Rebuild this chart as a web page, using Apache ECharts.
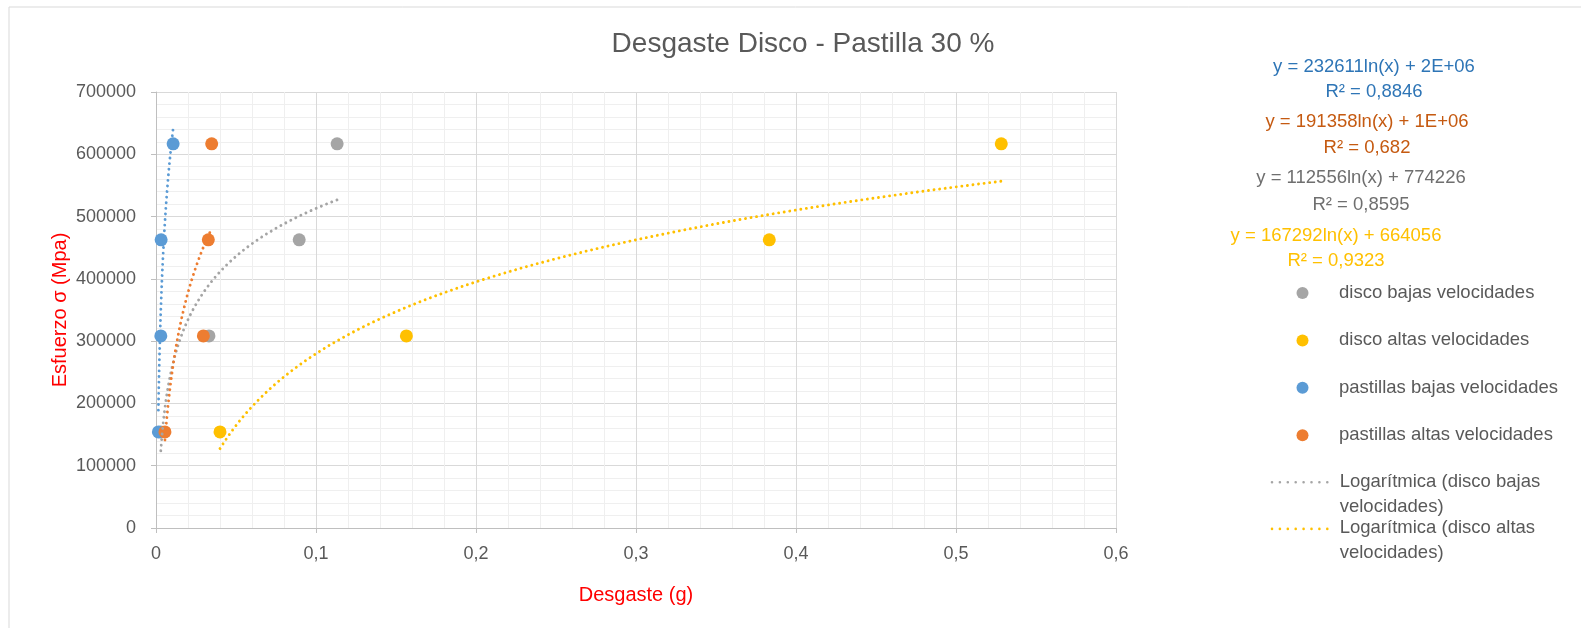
<!DOCTYPE html>
<html>
<head>
<meta charset="utf-8">
<script src="https://cdn.jsdelivr.net/npm/echarts@6/dist/echarts.min.js"></script>
<style>
html,body{margin:0;padding:0;background:#fff;}
#chart{width:1581px;height:628px;}
</style>
</head>
<body>
<div id="chart"></div>
<script>
// ---- data ----
const stressLevels = [154200, 308400, 462600, 616800];
const discoBajasX = [0.0030, 0.0331, 0.0895, 0.1132];
const discoAltasX = [0.0400, 0.1565, 0.3833, 0.5283];
const pastillasBajasX = [0.0015, 0.0030, 0.0032, 0.0107];
const pastillasAltasX = [0.0056, 0.0296, 0.0327, 0.0348];
const seriesNames = ['disco bajas velocidades', 'disco altas velocidades', 'pastillas bajas velocidades', 'pastillas altas velocidades'];
const seriesColors = ['#A5A5A5', '#FFC000', '#5B9BD5', '#ED7D31'];
const equationTexts = [
  ['y = 232611ln(x) + 2E+06', 'R² = 0,8846'],
  ['y = 191358ln(x) + 1E+06', 'R² = 0,682'],
  ['y = 112556ln(x) + 774226', 'R² = 0,8595'],
  ['y = 167292ln(x) + 664056', 'R² = 0,9323']
];
const equationColors = ['#2E75B6', '#C55A11', '#6F6F6F', '#FFC000'];
const xTicks = [0, 0.1, 0.2, 0.3, 0.4, 0.5, 0.6];
const yTicks = [0, 100000, 200000, 300000, 400000, 500000, 600000, 700000];

const FONT = '"Liberation Sans", Arial, sans-serif';
const xsAll = [discoBajasX, discoAltasX, pastillasBajasX, pastillasAltasX];

function pairs(xs) { return xs.map((x, i) => [x, stressLevels[i]]); }

// logarithmic least-squares trendline (Excel "Logarítmica") from the data
function logTrend(xs) {
  const ys = stressLevels;
  const n = xs.length;
  const lx = xs.map(Math.log);
  const mx = lx.reduce((a, b) => a + b, 0) / n;
  const my = ys.reduce((a, b) => a + b, 0) / n;
  let sxy = 0, sxx = 0;
  for (let i = 0; i < n; i++) { sxy += (lx[i] - mx) * (ys[i] - my); sxx += (lx[i] - mx) ** 2; }
  const a = sxy / sxx, b = my - a * mx;
  const lo = Math.min(...xs), hi = Math.max(...xs);
  const pts = [];
  const N = 200;
  for (let k = 0; k <= N; k++) {
    const x = lo + (hi - lo) * k / N;
    pts.push([x, a * Math.log(x) + b]);
  }
  return pts;
}

const trendNames = [
  'Logarítmica (disco bajas velocidades)',
  'Logarítmica (disco altas velocidades)',
  'Logarítmica (pastillas bajas velocidades)',
  'Logarítmica (pastillas altas velocidades)'
];

const series = [];
xsAll.forEach((xs, i) => {
  series.push({
    name: seriesNames[i], type: 'scatter', data: pairs(xs),
    symbol: 'circle', symbolSize: 13, itemStyle: { color: seriesColors[i], opacity: 1 },
    z: 2 + i
  });
});
xsAll.forEach((xs, i) => {
  series.push({
    name: trendNames[i], type: 'line', data: logTrend(xs), showSymbol: false, symbol: 'none',
    smooth: false, color: seriesColors[i],
    lineStyle: { color: seriesColors[i], width: 2.9, type: [0.01, 5.6], cap: 'round' },
    z: 10 + i, silent: true
  });
});

// dotted-line legend icon (dots occupy left 58px of a 64x26 box)
let dotPath = 'path://M64,26 ';
for (let k = 0; k < 8; k++) {
  const x = k * 7.9;
  dotPath += 'M' + x + ',1.3 a1.3,1.3 0 1,0 2.6,0 a1.3,1.3 0 1,0 -2.6,0 ';
}
// round marker legend icon centred in a 63x12 box
const dotMarkerPath = 'path://M0,0 M63,12 M25.5,6 a6,6 0 1,0 12,0 a6,6 0 1,0 -12,0 Z';

const graphics = [
  { type: 'rect', shape: { x: 9, y: 7, width: 1700, height: 800 }, style: { fill: 'none', stroke: '#d9d9d9', lineWidth: 1 }, silent: true, z: -10 }
];
const eqCenters = [[1374, 66.5, 92], [1367, 122, 148], [1361, 178, 205], [1336, 236, 261]];
equationTexts.forEach((t, i) => {
  graphics.push({ type: 'text', x: eqCenters[i][0], y: eqCenters[i][1],
    style: { text: t[0], fill: equationColors[i], font: '18.5px ' + FONT, textAlign: 'center', textVerticalAlign: 'middle' } });
  graphics.push({ type: 'text', x: eqCenters[i][0], y: eqCenters[i][2],
    style: { text: t[1], fill: equationColors[i], font: '18.5px ' + FONT, textAlign: 'center', textVerticalAlign: 'middle' } });
});

const option = {
  backgroundColor: '#ffffff',
  animation: false,
  title: {
    text: 'Desgaste Disco - Pastilla 30 %', left: 803, top: 30, textAlign: 'center', padding: 0,
    textStyle: { color: '#595959', fontSize: 28, fontWeight: 'normal', fontFamily: FONT }
  },
  grid: { left: 156, right: 465, top: 92, bottom: 100, containLabel: false },
  legend: [
    {
      data: seriesNames.map((n, i) => ({ name: n, icon: dotMarkerPath, itemStyle: { color: seriesColors[i], borderWidth: 0 } })),
      orient: 'vertical', left: 1271, top: 282, padding: 0,
      itemWidth: 63, itemHeight: 12, itemGap: 25.4,
      textStyle: { color: '#595959', fontSize: 18.5, fontFamily: FONT, lineHeight: 22 },
      selectedMode: false
    },
    {
      data: trendNames.slice(0, 2).map((n, i) => ({ name: n, icon: dotPath, itemStyle: { color: seriesColors[i], borderWidth: 0 } })),
      orient: 'vertical', left: 1270.7, top: 469, padding: 0,
      itemWidth: 64, itemHeight: 26, itemGap: -3.4,
      formatter: n => n.replace(' velocidades)', '\nvelocidades)'),
      textStyle: { color: '#595959', fontSize: 18.5, fontFamily: FONT, lineHeight: 25 },
      selectedMode: false
    }
  ],
  xAxis: {
    type: 'value', min: xTicks[0], max: xTicks[xTicks.length - 1], interval: 0.1,
    name: 'Desgaste (g)', nameLocation: 'middle', nameGap: 57, nameMoveOverlap: false,
    nameTextStyle: { color: '#FF0000', fontSize: 20, fontFamily: FONT },
    axisLine: { show: true, onZero: false, lineStyle: { color: '#BFBFBF', width: 1 } },
    axisTick: { show: true, length: 5, lineStyle: { color: '#BFBFBF' } },
    axisLabel: { color: '#595959', fontSize: 18, fontFamily: FONT, margin: 17,
      formatter: v => String(Math.round(v * 10) / 10).replace('.', ',') },
    splitLine: { show: true, lineStyle: { color: '#D9D9D9', width: 1 } },
    minorTick: { show: false, splitNumber: 5 },
    minorSplitLine: { show: true, lineStyle: { color: '#EFEFEF', width: 1 } }
  },
  yAxis: {
    type: 'value', min: yTicks[0], max: yTicks[yTicks.length - 1], interval: 100000,
    name: 'Esfuerzo σ (Mpa)', nameLocation: 'middle', nameGap: 86, nameRotate: 90, nameMoveOverlap: false,
    nameTextStyle: { color: '#FF0000', fontSize: 20, fontFamily: FONT },
    axisLine: { show: true, onZero: false, lineStyle: { color: '#BFBFBF', width: 1 } },
    axisTick: { show: true, length: 5, lineStyle: { color: '#BFBFBF' } },
    axisLabel: { color: '#595959', fontSize: 18, fontFamily: FONT, margin: 20,
      formatter: v => String(v) },
    splitLine: { show: true, lineStyle: { color: '#D9D9D9', width: 1 } },
    minorTick: { show: false, splitNumber: 5 },
    minorSplitLine: { show: true, lineStyle: { color: '#EFEFEF', width: 1 } }
  },
  graphic: graphics,
  series: series
};

const chart = echarts.init(document.getElementById('chart'), null, { renderer: 'canvas' });
chart.setOption(option);
</script>
</body>
</html>
